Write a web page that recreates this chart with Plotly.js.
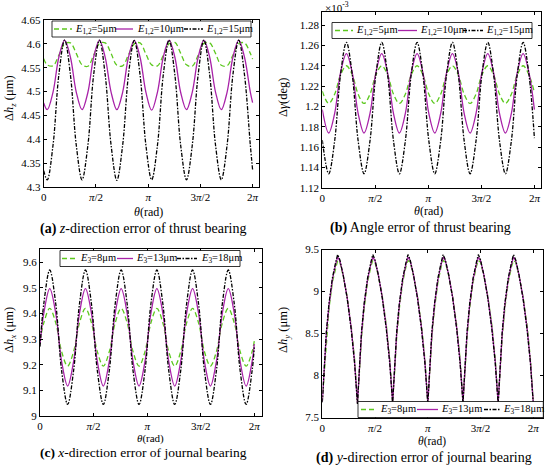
<!DOCTYPE html>
<html>
<head>
<meta charset="utf-8">
<script src="https://cdn.plot.ly/plotly-3.0.1.min.js"></script>
<style>html,body{margin:0;padding:0;background:#fff;}#chart{width:550px;height:469px;}</style>
</head>
<body>
<div id="chart"></div>
<script>
// ---------- data ----------
// (a) z-direction error of thrust bearing, Δh_z in μm
const thetaA = [0, 0.106, 0.281, 0.455, 0.630, 0.804, 0.979, 1.153, 1.328, 1.502, 1.677, 1.851, 2.026, 2.200, 2.375, 2.549, 2.724, 2.898, 3.073, 3.247, 3.422, 3.596, 3.771, 3.945, 4.120, 4.294, 4.469, 4.643, 4.818, 4.992, 5.167, 5.341, 5.516, 5.690, 5.865, 6.039, 6.214, 6.283];
const dzE5  = [4.569, 4.556, 4.554, 4.576, 4.600, 4.602, 4.580, 4.556, 4.553, 4.576, 4.601, 4.602, 4.580, 4.555, 4.554, 4.577, 4.600, 4.602, 4.579, 4.556, 4.554, 4.576, 4.600, 4.603, 4.580, 4.556, 4.553, 4.576, 4.601, 4.602, 4.580, 4.555, 4.554, 4.576, 4.600, 4.602, 4.580, 4.568];
const dzE10 = [4.476, 4.462, 4.499, 4.572, 4.608, 4.572, 4.499, 4.462, 4.498, 4.572, 4.608, 4.571, 4.499, 4.462, 4.499, 4.572, 4.607, 4.572, 4.499, 4.461, 4.499, 4.572, 4.608, 4.572, 4.498, 4.462, 4.499, 4.571, 4.608, 4.572, 4.499, 4.462, 4.499, 4.572, 4.608, 4.572, 4.499, 4.477];
const dzE15 = [4.334, 4.315, 4.388, 4.535, 4.608, 4.535, 4.388, 4.315, 4.387, 4.535, 4.608, 4.534, 4.388, 4.314, 4.388, 4.535, 4.607, 4.535, 4.388, 4.315, 4.388, 4.535, 4.608, 4.535, 4.387, 4.315, 4.388, 4.534, 4.608, 4.535, 4.388, 4.315, 4.388, 4.535, 4.608, 4.535, 4.388, 4.336];

// (b) angle error of thrust bearing, Δγ in 10^-3 deg
const thetaB = [0, 0.190, 0.365, 0.539, 0.714, 0.888, 1.063, 1.237, 1.412, 1.586, 1.761, 1.935, 2.110, 2.284, 2.459, 2.633, 2.808, 2.982, 3.157, 3.331, 3.506, 3.680, 3.855, 4.029, 4.204, 4.378, 4.553, 4.727, 4.902, 5.076, 5.251, 5.425, 5.600, 5.774, 5.949, 6.123, 6.283];
const dgE5  = [1.215, 1.203, 1.212, 1.231, 1.240, 1.231, 1.212, 1.203, 1.212, 1.231, 1.240, 1.231, 1.212, 1.203, 1.212, 1.231, 1.240, 1.231, 1.212, 1.203, 1.212, 1.231, 1.240, 1.231, 1.212, 1.203, 1.212, 1.231, 1.240, 1.231, 1.212, 1.203, 1.212, 1.231, 1.240, 1.231, 1.214];
const dgE10 = [1.197, 1.174, 1.193, 1.233, 1.252, 1.233, 1.193, 1.174, 1.193, 1.233, 1.252, 1.233, 1.193, 1.174, 1.193, 1.233, 1.252, 1.233, 1.193, 1.174, 1.193, 1.233, 1.252, 1.233, 1.193, 1.174, 1.193, 1.233, 1.252, 1.233, 1.193, 1.174, 1.193, 1.233, 1.252, 1.233, 1.197];
const dgE15 = [1.167, 1.134, 1.166, 1.231, 1.263, 1.231, 1.166, 1.134, 1.166, 1.231, 1.263, 1.231, 1.166, 1.134, 1.166, 1.231, 1.263, 1.231, 1.166, 1.134, 1.166, 1.231, 1.263, 1.231, 1.166, 1.134, 1.166, 1.231, 1.263, 1.231, 1.166, 1.134, 1.166, 1.231, 1.263, 1.231, 1.169];

// (c) x-direction error of journal bearing, Δh_x in μm
const thetaC = [0, 0.112, 0.286, 0.461, 0.635, 0.810, 0.984, 1.159, 1.333, 1.508, 1.682, 1.857, 2.031, 2.206, 2.380, 2.555, 2.729, 2.904, 3.078, 3.253, 3.427, 3.602, 3.776, 3.951, 4.125, 4.300, 4.474, 4.649, 4.823, 4.998, 5.172, 5.347, 5.521, 5.696, 5.870, 6.045, 6.219, 6.283];
const dxE8  = [9.292, 9.364, 9.420, 9.364, 9.251, 9.195, 9.251, 9.364, 9.420, 9.364, 9.251, 9.195, 9.251, 9.364, 9.420, 9.364, 9.251, 9.195, 9.251, 9.364, 9.420, 9.364, 9.251, 9.195, 9.251, 9.364, 9.420, 9.364, 9.251, 9.195, 9.251, 9.364, 9.420, 9.364, 9.251, 9.195, 9.251, 9.292];
const dxE13 = [9.281, 9.402, 9.497, 9.402, 9.212, 9.117, 9.212, 9.402, 9.497, 9.402, 9.212, 9.117, 9.212, 9.402, 9.497, 9.402, 9.212, 9.117, 9.212, 9.402, 9.497, 9.402, 9.212, 9.117, 9.212, 9.402, 9.497, 9.402, 9.212, 9.117, 9.212, 9.402, 9.497, 9.402, 9.212, 9.117, 9.212, 9.281];
const dxE18 = [9.271, 9.439, 9.570, 9.439, 9.176, 9.045, 9.176, 9.439, 9.570, 9.439, 9.176, 9.045, 9.176, 9.439, 9.570, 9.439, 9.176, 9.045, 9.176, 9.439, 9.570, 9.439, 9.176, 9.045, 9.176, 9.439, 9.570, 9.439, 9.176, 9.045, 9.176, 9.439, 9.570, 9.439, 9.176, 9.045, 9.176, 9.268];

// (d) y-direction error of journal bearing, Δh_y in μm
const thetaD = [0, 0.06, 0.12, 0.20, 0.30, 0.40, 0.456, 0.52, 0.62, 0.74, 0.86, 0.96,
  1.047, 1.107, 1.167, 1.247, 1.347, 1.447, 1.503, 1.567, 1.667, 1.787, 1.907, 2.007,
  2.094, 2.154, 2.214, 2.294, 2.394, 2.494, 2.550, 2.614, 2.714, 2.834, 2.954, 3.054,
  3.142, 3.202, 3.262, 3.342, 3.442, 3.542, 3.598, 3.662, 3.762, 3.882, 4.002, 4.102,
  4.189, 4.249, 4.309, 4.389, 4.489, 4.589, 4.645, 4.709, 4.809, 4.929, 5.049, 5.149,
  5.236, 5.296, 5.356, 5.436, 5.536, 5.636, 5.692, 5.756, 5.856, 5.976, 6.096, 6.196,
  6.283];
const dyE8  = [7.70, 8.05, 8.45, 8.80, 9.11, 9.30, 9.37, 9.35, 9.19, 8.94, 8.60, 8.20,
  7.68, 8.05, 8.45, 8.80, 9.11, 9.30, 9.37, 9.35, 9.19, 8.94, 8.60, 8.20,
  7.69, 8.05, 8.45, 8.80, 9.11, 9.30, 9.37, 9.35, 9.19, 8.94, 8.60, 8.20,
  7.68, 8.05, 8.45, 8.80, 9.11, 9.30, 9.37, 9.35, 9.19, 8.94, 8.60, 8.20,
  7.69, 8.05, 8.45, 8.80, 9.11, 9.30, 9.37, 9.35, 9.19, 8.94, 8.60, 8.20,
  7.68, 8.05, 8.45, 8.80, 9.11, 9.30, 9.37, 9.35, 9.19, 8.94, 8.60, 8.20,
  7.68];
const dyE13 = [7.69, 8.08, 8.49, 8.84, 9.14, 9.33, 9.41, 9.37, 9.20, 8.93, 8.57, 8.17,
  7.67, 8.08, 8.49, 8.84, 9.14, 9.33, 9.41, 9.37, 9.20, 8.93, 8.57, 8.17,
  7.68, 8.08, 8.49, 8.84, 9.14, 9.33, 9.41, 9.37, 9.20, 8.93, 8.57, 8.17,
  7.67, 8.08, 8.49, 8.84, 9.14, 9.33, 9.41, 9.37, 9.20, 8.93, 8.57, 8.17,
  7.68, 8.08, 8.49, 8.84, 9.14, 9.33, 9.41, 9.37, 9.20, 8.93, 8.57, 8.17,
  7.67, 8.08, 8.49, 8.84, 9.14, 9.33, 9.41, 9.37, 9.20, 8.93, 8.57, 8.17,
  7.67];
const dyE18 = [7.68, 8.10, 8.52, 8.86, 9.16, 9.35, 9.44, 9.38, 9.20, 8.92, 8.55, 8.15,
  7.66, 8.10, 8.52, 8.86, 9.16, 9.35, 9.44, 9.38, 9.20, 8.92, 8.55, 8.15,
  7.67, 8.10, 8.52, 8.86, 9.16, 9.35, 9.44, 9.38, 9.20, 8.92, 8.55, 8.15,
  7.66, 8.10, 8.52, 8.86, 9.16, 9.35, 9.44, 9.38, 9.20, 8.92, 8.55, 8.15,
  7.67, 8.10, 8.52, 8.86, 9.16, 9.35, 9.44, 9.38, 9.20, 8.92, 8.55, 8.15,
  7.66, 8.10, 8.52, 8.86, 9.16, 9.35, 9.44, 9.38, 9.20, 8.92, 8.55, 8.15,
  7.66];

// tick labels
const xTickText = ['0', '<i>π</i>/2', '<i>π</i>', '3<i>π</i>/2', '2<i>π</i>'];
const yTicksA = [4.3, 4.35, 4.4, 4.45, 4.5, 4.55, 4.6, 4.65];
const yTickTextA = ['4.3', '4.35', '4.4', '4.45', '4.5', '4.55', '4.6', '4.65'];
const yTicksB = [1.12, 1.14, 1.16, 1.18, 1.2, 1.22, 1.24, 1.26, 1.28];
const yTickTextB = ['1.12', '1.14', '1.16', '1.18', '1.2', '1.22', '1.24', '1.26', '1.28'];
const yTicksC = [9, 9.1, 9.2, 9.3, 9.4, 9.5, 9.6];
const yTickTextC = ['9', '9.1', '9.2', '9.3', '9.4', '9.5', '9.6'];
const yTicksD = [7.5, 8, 8.5, 9, 9.5];
const yTickTextD = ['7.5', '8', '8.5', '9', '9.5'];
const namesAB = ['<i>E</i><sub>1,2</sub>=5μm', '<i>E</i><sub>1,2</sub>=10μm', '<i>E</i><sub>1,2</sub>=15μm'];
const namesCD = ['<i>E</i><sub>3</sub>=8μm', '<i>E</i><sub>3</sub>=13μm', '<i>E</i><sub>3</sub>=18μm'];

// ---------- styling ----------
const W = 550, H = 469;
const FONT = 'Liberation Serif';
const GREEN = '#5cc81e', PURPLE = '#a822a8', BLACK = '#000000';
const STY = [
  {color: GREEN, dash: '5px,3px', width: 1.3},
  {color: PURPLE, dash: 'solid', width: 1.3},
  {color: BLACK, dash: '4px,1.5px,1.5px,1.5px', width: 1.3}
];
const px = v => v / W;
const py = v => 1 - v / H;
const xTickVals = [0, Math.PI / 2, Math.PI, 3 * Math.PI / 2, 2 * Math.PI];

function mk(x, ys, names, xa, ya, shape) {
  return ys.map((y, i) => ({
    type: 'scatter', mode: 'lines', x: x, y: y, name: names[i],
    xaxis: xa, yaxis: ya, showlegend: false, hoverinfo: 'skip',
    line: {color: STY[i].color, dash: STY[i].dash, width: STY[i].width, shape: shape, smoothing: 1}
  }));
}

const traces = [].concat(
  mk(thetaA, [dzE5, dzE10, dzE15], namesAB, 'x', 'y', 'spline'),
  mk(thetaB, [dgE5, dgE10, dgE15], namesAB, 'x2', 'y2', 'spline'),
  mk(thetaC, [dxE8, dxE13, dxE18], namesCD, 'x3', 'y3', 'spline'),
  mk(thetaD, [dyE8, dyE13, dyE18], namesCD, 'x4', 'y4', 'linear')
);

function xax(dom, range, anchor) {
  return {
    domain: dom, range: range, anchor: anchor,
    tickmode: 'array', tickvals: xTickVals, ticktext: xTickText,
    ticks: 'inside', ticklen: 3, tickwidth: 1, tickcolor: '#000',
    showline: true, linecolor: '#000', linewidth: 1, mirror: 'ticks',
    showgrid: false, zeroline: false,
    tickfont: {family: FONT, size: 11, color: '#000'}
  };
}
function yax(dom, range, anchor, vals, text) {
  return {
    domain: dom, range: range, anchor: anchor,
    tickmode: 'array', tickvals: vals, ticktext: text,
    ticks: 'inside', ticklen: 3, tickwidth: 1, tickcolor: '#000',
    showline: true, linecolor: '#000', linewidth: 1, mirror: 'ticks',
    showgrid: false, zeroline: false,
    tickfont: {family: FONT, size: 11, color: '#000'}
  };
}

const annotations = [];
const shapes = [];
function txt(x, y, text, size, opts) {
  annotations.push(Object.assign({
    xref: 'paper', yref: 'paper', x: px(x), y: py(y), text: text, showarrow: false,
    xanchor: 'center', yanchor: 'middle', font: {family: FONT, size: size, color: '#000'}
  }, opts || {}));
}
// legend drawn in layout (box, line samples, labels)
function legend(box, yc, items, names) {
  shapes.push({type: 'rect', xref: 'paper', yref: 'paper', layer: 'above',
    x0: px(box[0]), x1: px(box[2]), y0: py(box[3]), y1: py(box[1]),
    fillcolor: '#fff', line: {color: '#000', width: 0.8}});
  items.forEach((it, i) => {
    shapes.push({type: 'line', xref: 'paper', yref: 'paper', layer: 'above',
      x0: px(it[0]), x1: px(it[1]), y0: py(yc), y1: py(yc),
      line: {color: STY[i].color, dash: STY[i].dash, width: STY[i].width}});
    txt(it[2], yc, names[i], 10.5, {xanchor: 'left'});
  });
}
legend([52, 21, 251, 37], 29, [[54, 72, 73], [115, 133, 135], [184, 203, 204]], namesAB);
legend([332, 22.5, 532, 38.5], 30.5, [[335, 353, 354], [398, 417, 418], [463, 483, 484]], namesAB);
legend([60, 250.5, 240, 266.5], 258.5, [[62, 77, 78], [117, 133, 134], [177, 197, 199]], namesCD);
legend([358, 401.5, 543.3, 417.5], 409.5, [[361, 377, 378], [417, 438, 439], [484, 500, 501]], namesCD);

// axis titles
txt(10, 98, 'Δ<i>h</i><sub><i>z</i></sub> (μm)', 12.5, {textangle: -90});
txt(283, 98, 'Δ<i>γ</i>(deg)', 12.5, {textangle: -90});
txt(10, 330, 'Δ<i>h</i><sub><i>x</i></sub> (μm)', 12.5, {textangle: -90});
txt(284, 330, 'Δ<i>h</i><sub><i>y</i></sub> (μm)', 12.5, {textangle: -90});
txt(323, 7, '×10<sup>-3</sup>', 11, {xanchor: 'left'});
txt(148, 212, '<i>θ</i>(rad)', 12);
txt(428, 211, '<i>θ</i>(rad)', 12);
txt(150, 438.5, '<i>θ</i>(rad)', 11);
txt(432, 441, '<i>θ</i>(rad)', 11.5);
// captions
txt(143, 229, '<b>(a)</b> <i>z</i>-direction error of thrust bearing', 14);
txt(420, 228, '<b>(b)</b> Angle error of thrust bearing', 14);
txt(143, 452, '<b>(c)</b> <i>x</i>-direction error of journal bearing', 13.5);
txt(424, 458, '<b>(d)</b> <i>y</i>-direction error of journal bearing', 14);

const layout = {
  width: W, height: H, margin: {l: 0, r: 0, t: 0, b: 0},
  paper_bgcolor: '#fff', plot_bgcolor: '#fff', showlegend: false,
  font: {family: FONT, size: 11, color: '#000'},
  xaxis:  xax([px(43.7), px(258.5)], [0, 6.46], 'y'),
  yaxis:  yax([py(187), py(20)], [4.3, 4.65], 'x', yTicksA, yTickTextA),
  xaxis2: xax([px(322.3), px(540.7)], [0, 6.47], 'y2'),
  yaxis2: yax([py(188), py(12.3)], [1.12, 1.2925], 'x2', yTicksB, yTickTextB),
  xaxis3: xax([px(40), px(262)], [0, 6.51], 'y3'),
  yaxis3: yax([py(416), py(249)], [9, 9.652], 'x3', yTicksC, yTickTextC),
  xaxis4: xax([px(322.3), px(543.3)], [0, 6.58], 'y4'),
  yaxis4: yax([py(417.5), py(249.5)], [7.5, 9.5], 'x4', yTicksD, yTickTextD),
  annotations: annotations, shapes: shapes
};

Plotly.newPlot('chart', traces, layout, {displayModeBar: false, staticPlot: true});
</script>
</body>
</html>
